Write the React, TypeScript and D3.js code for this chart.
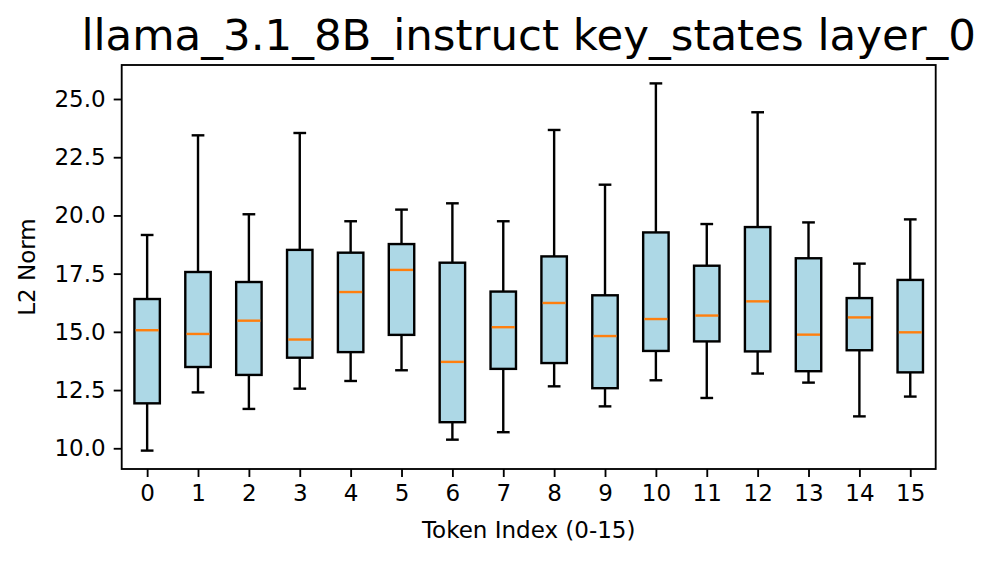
import React, { useEffect, useRef } from "react";
import { select, scaleLinear, axisBottom, axisLeft, format } from "d3";

const tokens = [0, 1, 2, 3, 4, 5, 6, 7, 8, 9, 10, 11, 12, 13, 14, 15];
const whiskerLow = [9.9, 12.4, 11.69, 12.56, 12.89, 13.35, 10.37, 10.69, 12.66, 11.8, 12.92, 12.16, 13.21, 12.82, 11.37, 12.22];
const q1 = [11.93, 13.49, 13.15, 13.89, 14.13, 14.87, 11.12, 13.41, 13.66, 12.58, 14.18, 14.59, 14.16, 13.31, 14.21, 13.26];
const medians = [15.07, 14.91, 15.48, 14.67, 16.71, 17.66, 13.71, 15.2, 16.24, 14.82, 15.55, 15.7, 16.31, 14.88, 15.62, 14.98];
const q3 = [16.41, 17.57, 17.14, 18.52, 18.4, 18.77, 17.97, 16.73, 18.24, 16.57, 19.27, 17.84, 19.5, 18.16, 16.45, 17.23];
const whiskerHigh = [19.16, 23.44, 20.05, 23.54, 19.75, 20.25, 20.52, 19.75, 23.67, 21.32, 25.67, 19.63, 24.43, 19.7, 17.93, 19.83];
const yTicks = [10, 12.5, 15, 17.5, 20, 22.5, 25];

const W = 996;
const H = 561;
const plot = { left: 121.7, right: 935.7, top: 65, bottom: 469 };
const font = "'DejaVu Sans', sans-serif";

const BoxChart = () => {
  const svgRef = useRef(null);

  useEffect(() => {
    const svg = select(svgRef.current);
    svg.selectAll("*").remove();

    const x = scaleLinear().domain([-0.5, 15.5]).range([plot.left, plot.right]);
    const y = scaleLinear().domain([9.11, 26.46]).range([plot.bottom, plot.top]);

    const boxW = x(0.25) - x(0);
    const capW = x(0.125) - x(0);

    const data = tokens.map((t, i) => ({
      t,
      lo: whiskerLow[i],
      q1: q1[i],
      med: medians[i],
      q3: q3[i],
      hi: whiskerHigh[i],
    }));

    const g = svg.append("g");
    const boxes = g.selectAll(".box").data(data).join("g").attr("class", "box");

    // whiskers
    boxes.append("line")
      .attr("x1", (d) => x(d.t)).attr("x2", (d) => x(d.t))
      .attr("y1", (d) => y(d.q3)).attr("y2", (d) => y(d.hi))
      .attr("stroke", "black").attr("stroke-width", 2.4);
    boxes.append("line")
      .attr("x1", (d) => x(d.t)).attr("x2", (d) => x(d.t))
      .attr("y1", (d) => y(d.q1)).attr("y2", (d) => y(d.lo))
      .attr("stroke", "black").attr("stroke-width", 2.4);
    // caps
    boxes.append("line")
      .attr("x1", (d) => x(d.t) - capW).attr("x2", (d) => x(d.t) + capW)
      .attr("y1", (d) => y(d.hi)).attr("y2", (d) => y(d.hi))
      .attr("stroke", "black").attr("stroke-width", 2.4);
    boxes.append("line")
      .attr("x1", (d) => x(d.t) - capW).attr("x2", (d) => x(d.t) + capW)
      .attr("y1", (d) => y(d.lo)).attr("y2", (d) => y(d.lo))
      .attr("stroke", "black").attr("stroke-width", 2.4);
    // box
    boxes.append("rect")
      .attr("x", (d) => x(d.t) - boxW)
      .attr("width", boxW * 2)
      .attr("y", (d) => y(d.q3))
      .attr("height", (d) => y(d.q1) - y(d.q3))
      .attr("fill", "#add8e6")
      .attr("stroke", "black")
      .attr("stroke-width", 2.4);
    // median
    boxes.append("line")
      .attr("x1", (d) => x(d.t) - boxW + 1.2).attr("x2", (d) => x(d.t) + boxW - 1.2)
      .attr("y1", (d) => y(d.med)).attr("y2", (d) => y(d.med))
      .attr("stroke", "#ff7f0e").attr("stroke-width", 2.4);

    // axes
    const xAxis = axisBottom(x).tickValues(tokens).tickFormat((d) => String(d)).tickSize(8).tickPadding(8);
    const gx = svg.append("g").attr("transform", `translate(0, ${plot.bottom})`).call(xAxis);
    const yAxis = axisLeft(y).tickValues(yTicks).tickFormat(format(".1f")).tickSize(8).tickPadding(8);
    const gy = svg.append("g").attr("transform", `translate(${plot.left}, 0)`).call(yAxis);
    [gx, gy].forEach((a) => {
      a.select(".domain").remove();
      a.selectAll("line").attr("stroke", "black").attr("stroke-width", 1.85);
      a.selectAll("text").attr("font-family", font).attr("font-size", 23).attr("fill", "black");
    });

    // frame
    svg.append("rect")
      .attr("x", plot.left).attr("y", plot.top)
      .attr("width", plot.right - plot.left).attr("height", plot.bottom - plot.top)
      .attr("fill", "none").attr("stroke", "black").attr("stroke-width", 1.85);

    svg.append("text")
      .attr("x", (plot.left + plot.right) / 2).attr("y", 50)
      .attr("text-anchor", "middle")
      .attr("font-family", font).attr("font-size", 43.5)
      .text("llama_3.1_8B_instruct key_states layer_0");

    svg.append("text")
      .attr("x", (plot.left + plot.right) / 2).attr("y", 538)
      .attr("text-anchor", "middle")
      .attr("font-family", font).attr("font-size", 23)
      .text("Token Index (0-15)");

    svg.append("text")
      .attr("transform", `translate(35, ${(plot.top + plot.bottom) / 2}) rotate(-90)`)
      .attr("text-anchor", "middle")
      .attr("font-family", font).attr("font-size", 23)
      .text("L2 Norm");
  }, []);

  return (
    <div style={{ position: "absolute", left: 0, top: 0, width: W, height: H, background: "white" }}>
      <svg ref={svgRef} width={W} height={H} viewBox={`0 0 ${W} ${H}`} />
    </div>
  );
};

export default function App() {
  return <BoxChart />;
}
